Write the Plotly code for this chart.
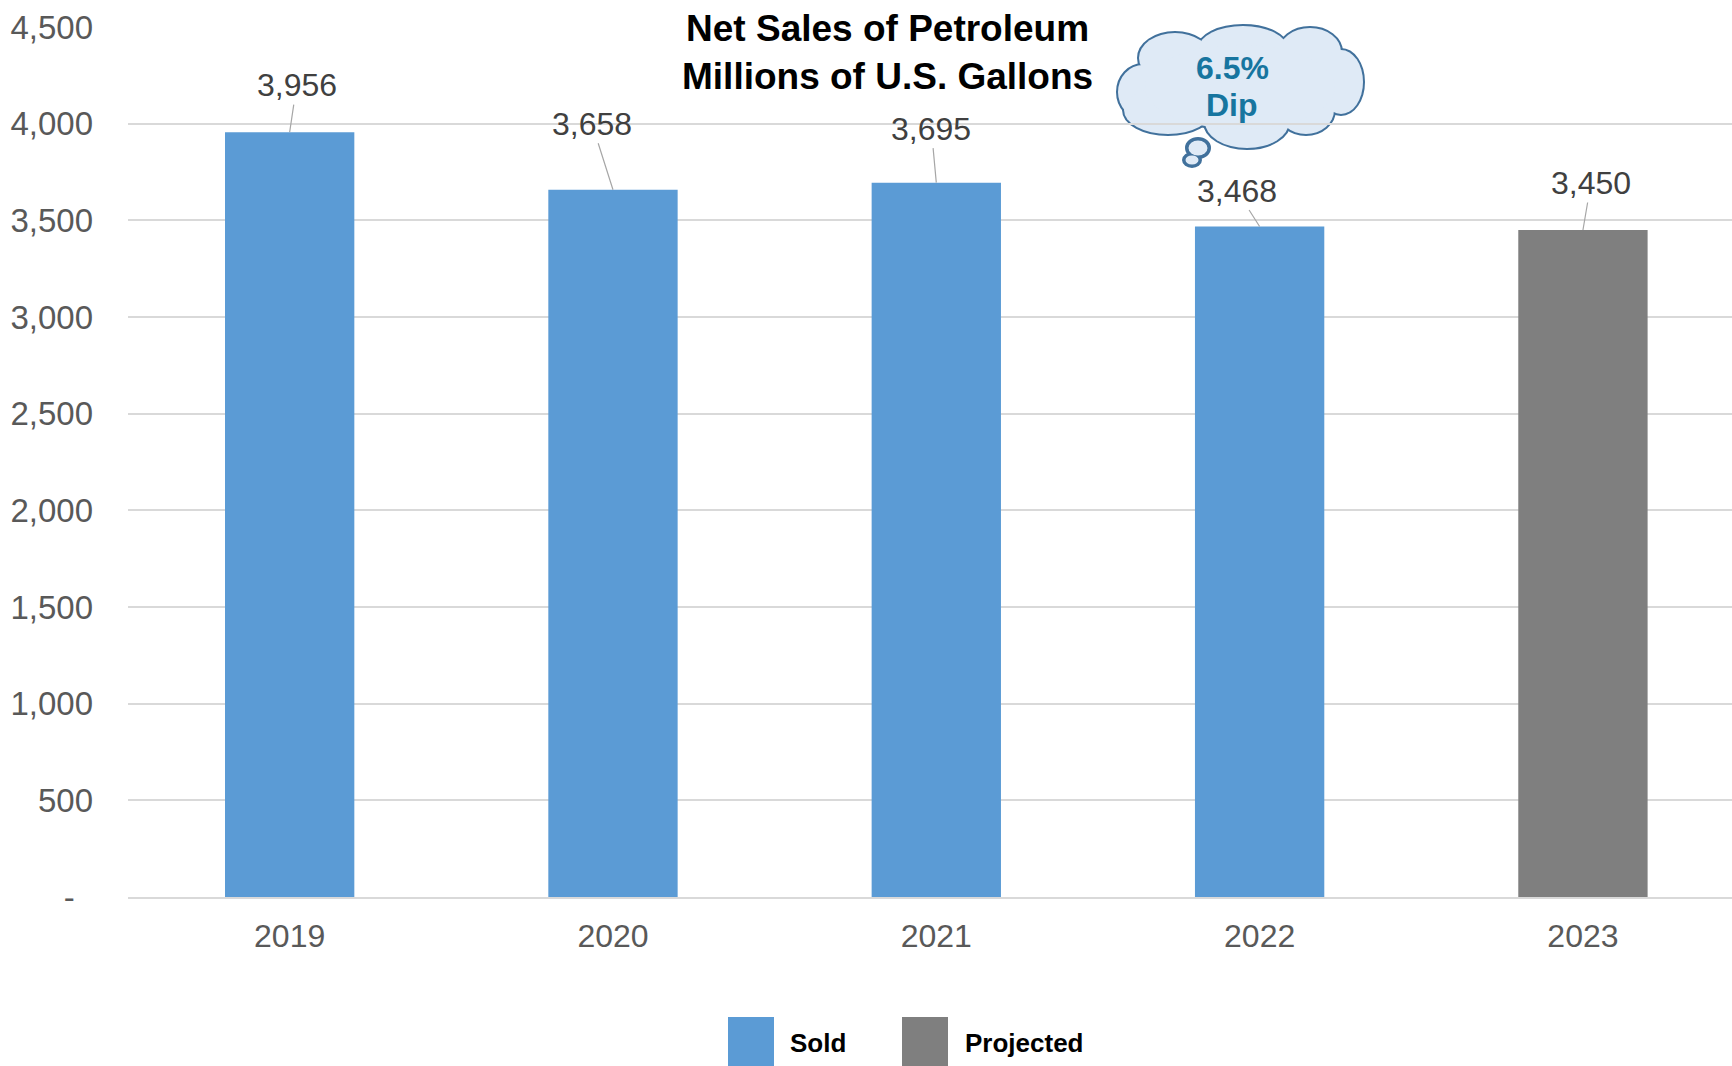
import plotly.graph_objects as go

# ---- data ----
years = ["2019", "2020", "2021", "2022", "2023"]
sold_years = ["2019", "2020", "2021", "2022"]
sold_values = [3956, 3658, 3695, 3468]
projected_years = ["2023"]
projected_values = [3450]
y_ticks = [0, 500, 1000, 1500, 2000, 2500, 3000, 3500, 4000, 4500]
y_tick_labels = ["-\u00a0\u00a0"] + [f"{v:,}" for v in y_ticks[1:]]
title_lines = ["Net Sales of Petroleum", "Millions of U.S. Gallons"]
callout_lines = ["6.5%", "Dip"]

# ---- layout constants ----
W, H = 1732, 1066
ML, MR, MT, MB = 128, 0, 27, 169
PLOT_W = W - ML - MR
PLOT_H = H - MT - MB
BLUE = "#5b9bd5"
GREY = "#7f7f7f"
FONT = "Liberation Sans, Arial, sans-serif"


def px(x):
    return (x - ML) / PLOT_W


def py(y):
    return (H - MB - y) / PLOT_H


fig = go.Figure()
fig.add_trace(go.Bar(x=sold_years, y=sold_values, name="Sold",
                     marker=dict(color=BLUE, line=dict(width=0)), width=0.4))
fig.add_trace(go.Bar(x=projected_years, y=projected_values, name="Projected",
                     marker=dict(color=GREY, line=dict(width=0)), width=0.4))

annotations = []
shapes = []

# value labels with leader lines (x given as category index)
label_offsets = {"2019": (7, -47), "2020": (-21, -66), "2021": (-5, -54),
                 "2022": (-23, -36), "2023": (8, -47)}
for xs, ys in ((sold_years, sold_values), (projected_years, projected_values)):
    for x, v in zip(xs, ys):
        ax, ay = label_offsets[x]
        annotations.append(dict(
            x=years.index(x), y=v, xref="x", yref="y", text=f"{v:,}", showarrow=True,
            arrowhead=0, arrowwidth=1.2, arrowcolor="#a6a6a6", ax=ax, ay=ay,
            standoff=0, startstandoff=0,
            font=dict(family=FONT, size=32, color="#404040")))

# chart title
annotations.append(dict(
    x=px(887), y=py(52), xref="paper", yref="paper",
    text="<b>" + "<br>".join(title_lines) + "</b>", showarrow=False,
    xanchor="center", yanchor="middle", align="center",
    font=dict(family=FONT, size=37, color="#000000")))

# thought-bubble callout: union of ellipses (outlined pass, then fill pass)
lobes = [
    (1143, 92, 25, 27), (1175, 58, 36, 25), (1243, 48, 44, 22),
    (1310, 52, 31, 24), (1341, 82, 22, 32), (1306, 110, 28, 24),
    (1247, 122, 42, 26), (1168, 110, 44, 24), (1240, 87, 95, 42),
]
bubbles = [(1198, 148, 11, 9), (1192, 160, 8, 6)]
CLOUD_FILL = "#dfeaf6"
CLOUD_LINE = "#41719c"
for cx, cy, rx, ry in lobes + bubbles:
    shapes.append(dict(type="circle", xref="paper", yref="paper", layer="below",
                       x0=px(cx - rx), x1=px(cx + rx), y0=py(cy + ry), y1=py(cy - ry),
                       fillcolor=CLOUD_FILL, line=dict(color=CLOUD_LINE, width=4)))
for cx, cy, rx, ry in lobes:
    shapes.append(dict(type="circle", xref="paper", yref="paper", layer="below",
                       x0=px(cx - rx), x1=px(cx + rx), y0=py(cy + ry), y1=py(cy - ry),
                       fillcolor=CLOUD_FILL, line=dict(width=0)))
for cx, cy, rx, ry in bubbles:
    shapes.append(dict(type="circle", xref="paper", yref="paper", layer="below",
                       x0=px(cx - rx + 1.5), x1=px(cx + rx - 1.5),
                       y0=py(cy + ry - 1.5), y1=py(cy - ry + 1.5),
                       fillcolor=CLOUD_FILL, line=dict(width=0)))
for text, cy in zip(callout_lines, (68, 105)):
    annotations.append(dict(
        x=px(1232), y=py(cy), xref="paper", yref="paper", text=f"<b>{text}</b>",
        showarrow=False, xanchor="center", yanchor="middle",
        font=dict(family=FONT, size=32, color="#17759f")))

# legend drawn as swatches + labels
for name, color, sx, tx in (("Sold", BLUE, 728, 788), ("Projected", GREY, 902, 963)):
    shapes.append(dict(type="rect", xref="paper", yref="paper",
                       x0=px(sx), x1=px(sx + 46), y0=py(1017), y1=py(1068),
                       fillcolor=color, line=dict(width=0)))
    annotations.append(dict(
        x=px(tx), y=py(1043), xref="paper", yref="paper", text=f"<b>{name}</b>",
        showarrow=False, xanchor="left", yanchor="middle",
        font=dict(family=FONT, size=26, color="#000000")))

fig.update_layout(
    width=W, height=H, margin=dict(l=ML, r=MR, t=MT, b=MB, pad=0),
    paper_bgcolor="white", plot_bgcolor="rgba(0,0,0,0)",
    barmode="overlay", showlegend=False,
    font=dict(family=FONT),
    annotations=annotations, shapes=shapes,
)
fig.update_xaxes(
    type="category", categoryorder="array", categoryarray=years,
    range=[-0.5, 4.461], showgrid=False, showline=True, linecolor="#d9d9d9",
    linewidth=2, ticks="", ticklabelstandoff=10,
    tickfont=dict(family=FONT, size=32, color="#595959"), fixedrange=True)
fig.update_yaxes(
    range=[0, 4500], tickvals=y_ticks, ticktext=y_tick_labels,
    showgrid=True, gridcolor="#d9d9d9", gridwidth=1.5, zeroline=False,
    showline=False, ticks="", ticklabelstandoff=34,
    tickfont=dict(family=FONT, size=33, color="#595959"), fixedrange=True)

fig.write_html("out.html")
